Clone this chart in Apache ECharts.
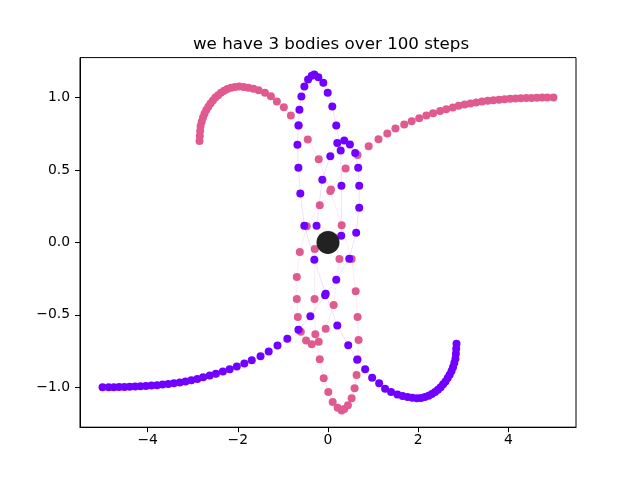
<!DOCTYPE html>
<html><head><meta charset="utf-8">
<script src="https://cdn.jsdelivr.net/npm/echarts/dist/echarts.min.js"></script>
<style>html,body{margin:0;padding:0;background:#fff}#c{width:640px;height:480px}</style>
</head><body><div id="c"></div>
<script>
const titleText = "we have 3 bodies over 100 steps";
const xTicks = [-4, -2, 0, 2, 4];
const yTicks = [-1.0, -0.5, 0.0, 0.5, 1.0];

// body 1 (violet)
const purpleX = [-5.00,-4.864,-4.749,-4.632,-4.515,-4.398,-4.278,-4.159,-4.038,-3.916,-3.792,-3.668,-3.543,-3.417,-3.288,-3.160,-3.030,-2.899,-2.769,-2.623,-2.486,-2.331,-2.181,-2.022,-1.856,-1.691,-1.496,-1.315,-1.120,-0.902,-0.656,
 -0.391,-0.065,0.183,0.471,0.625,0.692,0.692,0.670,0.603,0.486,0.360,0.206,0.051,-0.126,-0.254,0.294,0.298,0.281,0.183,0.095,-0.007,-0.104,-0.214,-0.303,-0.360,-0.442,-0.524,-0.590,-0.634,-0.656,-0.678,-0.656,-0.614,-0.526,-0.303,-0.051,
 0.206,0.449,0.648,0.824,0.979,1.134,1.266,1.399,1.540,1.654,1.764,1.870,1.973,2.064,2.150,2.231,2.303,2.374,2.437,2.498,2.553,2.606,2.654,2.698,2.740,2.772,2.801,2.826,2.836,2.843,2.850];
const purpleY = [-1.000,-1.000,-0.999,-0.998,-0.997,-0.996,-0.995,-0.993,-0.991,-0.988,-0.985,-0.981,-0.977,-0.972,-0.966,-0.959,-0.951,-0.942,-0.931,-0.919,-0.906,-0.891,-0.875,-0.856,-0.835,-0.813,-0.786,-0.752,-0.711,-0.664,-0.603,
 -0.510,-0.365,-0.257,-0.112,0.067,0.239,0.391,0.515,0.616,0.676,0.703,0.685,0.595,0.432,0.115,0.046,0.391,0.634,0.807,0.938,1.032,1.101,1.140,1.159,1.150,1.124,1.076,1.007,0.915,0.807,0.674,0.515,0.337,0.115,-0.119,-0.355,
 -0.574,-0.710,-0.809,-0.876,-0.933,-0.972,-1.009,-1.032,-1.050,-1.060,-1.067,-1.072,-1.076,-1.073,-1.067,-1.058,-1.046,-1.033,-1.016,-0.999,-0.979,-0.959,-0.936,-0.913,-0.888,-0.861,-0.832,-0.803,-0.769,-0.734,-0.699];

// body 2 (pink)
const pinkX = [5.00,4.864,4.749,4.632,4.515,4.398,4.278,4.159,4.038,3.916,3.792,3.668,3.543,3.417,3.288,3.160,3.030,2.899,2.769,2.623,2.486,2.331,2.181,2.022,1.856,1.691,1.496,1.315,1.120,0.902,0.656,
 0.391,0.065,-0.183,-0.471,-0.625,-0.692,-0.692,-0.670,-0.603,-0.486,-0.360,-0.206,-0.051,0.126,0.254,-0.294,-0.298,-0.281,-0.183,-0.095,0.007,0.104,0.214,0.303,0.360,0.442,0.524,0.590,0.634,0.656,0.678,0.656,0.614,0.526,0.303,0.051,
 -0.206,-0.449,-0.648,-0.824,-0.979,-1.134,-1.266,-1.399,-1.540,-1.654,-1.764,-1.870,-1.973,-2.064,-2.150,-2.231,-2.303,-2.374,-2.437,-2.498,-2.553,-2.606,-2.654,-2.698,-2.740,-2.772,-2.801,-2.826,-2.836,-2.843,-2.850];
const pinkY = [1.000,1.000,0.999,0.998,0.997,0.996,0.995,0.993,0.991,0.988,0.985,0.981,0.977,0.972,0.966,0.959,0.951,0.942,0.931,0.919,0.906,0.891,0.875,0.856,0.835,0.813,0.786,0.752,0.711,0.664,0.603,
 0.510,0.365,0.257,0.112,-0.067,-0.239,-0.391,-0.515,-0.616,-0.676,-0.703,-0.685,-0.595,-0.432,-0.115,-0.046,-0.391,-0.634,-0.807,-0.938,-1.032,-1.101,-1.140,-1.159,-1.150,-1.124,-1.076,-1.007,-0.915,-0.807,-0.674,-0.515,-0.337,-0.115,0.119,0.355,
 0.574,0.710,0.809,0.876,0.933,0.972,1.009,1.032,1.050,1.060,1.067,1.072,1.076,1.073,1.067,1.058,1.046,1.033,1.016,0.999,0.979,0.959,0.936,0.913,0.888,0.861,0.832,0.803,0.769,0.734,0.699];

// body 3 (central, heavy)
const centerX = [0];
const centerY = [0];

function pairs(xs, ys) { return xs.map((x, i) => [x, ys[i]]); }
const minus = s => String(s).replace('-', '\u2212');

const chart = echarts.init(document.getElementById('c'), null, {renderer: 'canvas'});
const font = 'DejaVu Sans';
chart.setOption({
  animation: false,
  backgroundColor: '#fff',
  title: {
    text: titleText, left: 326, top: 31, textAlign: 'center',
    textStyle: {fontFamily: font, fontSize: 16.7, fontWeight: 'normal', color: '#000'}
  },
  grid: {left: 80, right: 64, top: 57.6, bottom: 52.8, show: true, borderColor: '#000', borderWidth: 1, backgroundColor: 'transparent'},
  xAxis: {
    type: 'value', min: -5.5, max: 5.5,
    axisLine: {show: true, onZero: false, lineStyle: {color: '#000', width: 1}},
    axisTick: {show: true, customValues: xTicks, length: 5, lineStyle: {color: '#000', width: 1}},
    axisLabel: {customValues: xTicks, margin: 6, fontFamily: font, fontSize: 13.9, color: '#000', formatter: v => minus(v)},
    splitLine: {show: false}
  },
  yAxis: {
    type: 'value', min: -1.275, max: 1.275,
    axisLine: {show: true, onZero: false, lineStyle: {color: '#000', width: 1}},
    axisTick: {show: true, customValues: yTicks, length: 5, lineStyle: {color: '#000', width: 1}},
    axisLabel: {customValues: yTicks, margin: 10, fontFamily: font, fontSize: 13.9, color: '#000', formatter: v => minus(Number(v).toFixed(1))},
    splitLine: {show: false}
  },
  series: [
    {
      type: 'line', data: pairs(pinkX, pinkY), z: 2,
      symbol: 'circle', symbolSize: 8, showSymbol: true, showAllSymbol: true,
      itemStyle: {color: '#e15a8f', opacity: 1},
      lineStyle: {color: 'rgba(225,90,143,0.12)', width: 1}
    },
    {
      type: 'line', data: pairs(purpleX, purpleY), z: 3,
      symbol: 'circle', symbolSize: 8, showSymbol: true, showAllSymbol: true,
      itemStyle: {color: '#7000ff', opacity: 1},
      lineStyle: {color: 'rgba(112,0,255,0.12)', width: 1}
    },
    {
      type: 'scatter', data: pairs(centerX, centerY), z: 4,
      symbol: 'circle', symbolSize: 23,
      itemStyle: {color: '#222222', opacity: 1}
    }
  ]
});
</script>
</body></html>
